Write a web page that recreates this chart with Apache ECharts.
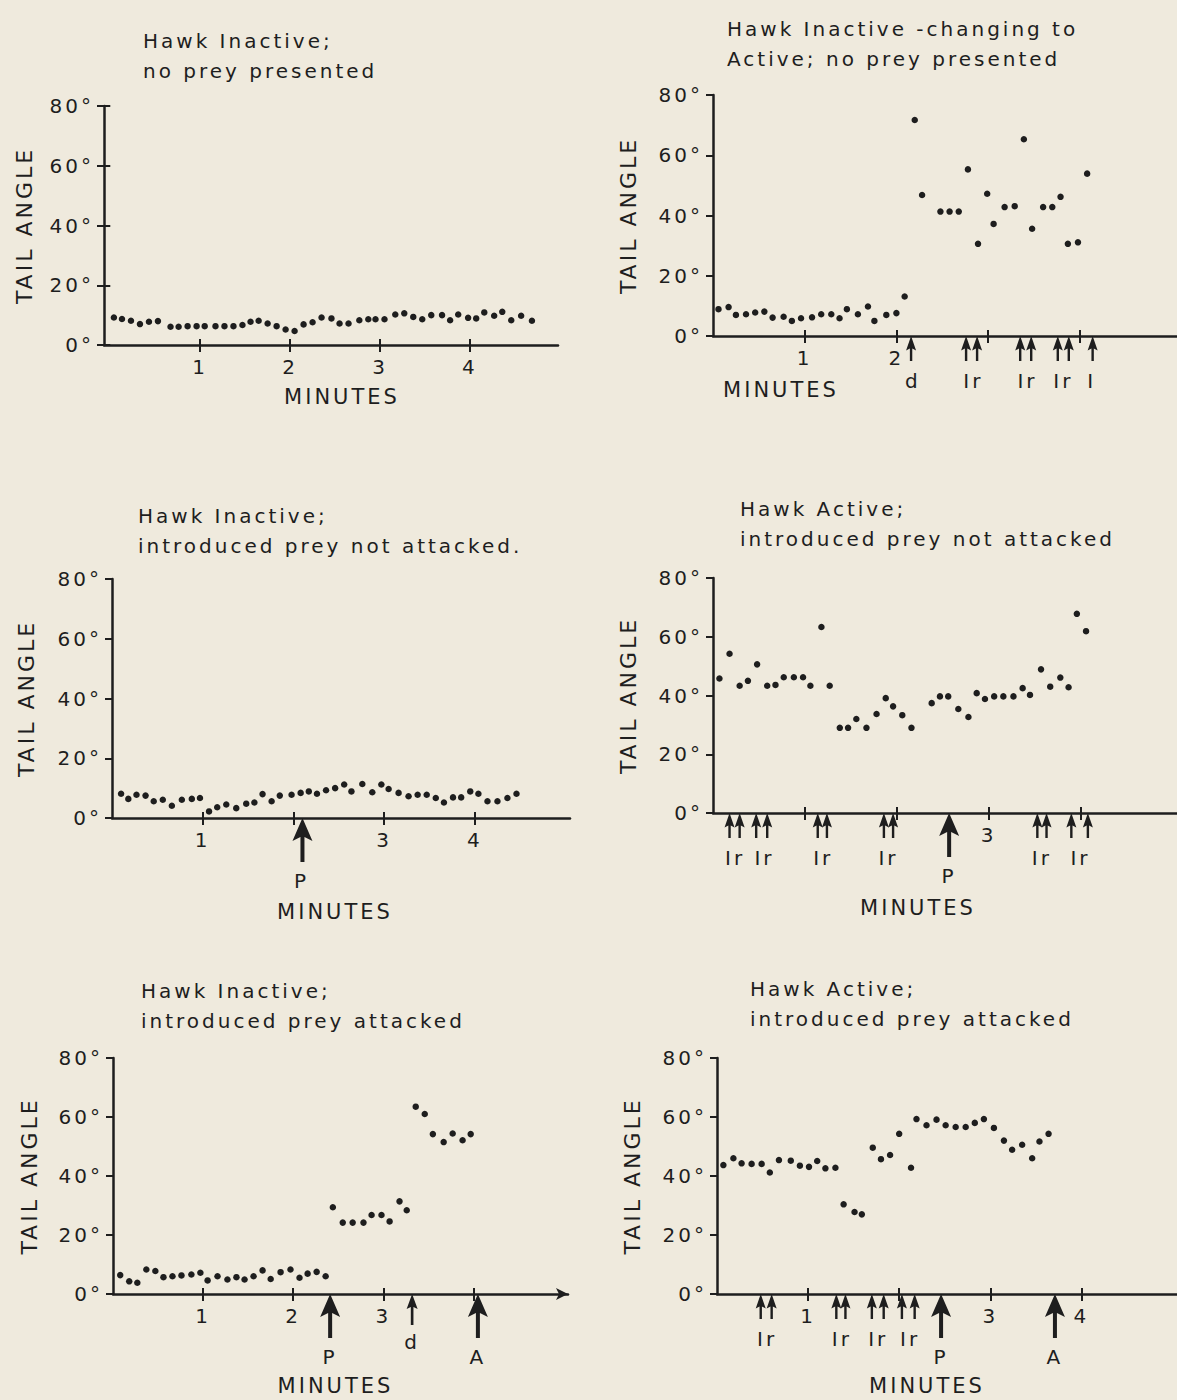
<!DOCTYPE html>
<html><head><meta charset="utf-8">
<script src="https://cdn.jsdelivr.net/npm/echarts@6/dist/echarts.min.js"></script>
<style>
html,body{margin:0;padding:0;background:#efeadd;}
#chart{width:1177px;height:1400px;}
#chart text{letter-spacing:3px;}
</style></head><body><div id="chart"></div>
<script>
// ---------------- DATA ----------------
// Panel 1: Hawk Inactive; no prey presented
const p1Minutes = [0.04,0.13,0.23,0.33,0.43,0.53,0.67,0.76,0.86,0.96,1.05,1.17,1.27,1.37,1.47,1.56,1.65,1.75,1.85,1.95,2.05,2.15,2.25,2.35,2.46,2.55,2.65,2.77,2.87,2.95,3.05,3.17,3.27,3.37,3.47,3.57,3.69,3.78,3.87,3.98,4.07,4.16,4.27,4.36,4.46,4.57,4.69];
const p1Angle   = [9.2,8.7,8.1,7.0,7.8,8.0,6.1,6.1,6.3,6.3,6.3,6.3,6.3,6.3,6.7,7.8,8.1,7.2,6.3,5.2,4.7,6.9,7.6,9.2,8.9,7.2,7.2,8.3,8.6,8.6,8.6,10.2,10.6,9.4,8.6,10.0,10.0,8.3,10.2,9.1,8.9,10.9,9.8,11.1,8.3,9.8,8.1];
const p1ArrowX = [], p1ArrowKind = [], p1NoteX = [], p1NoteText = [];

// Panel 2: Hawk Inactive - changing to Active; no prey presented
const p2Minutes = [0.06,0.17,0.25,0.36,0.46,0.56,0.65,0.77,0.86,0.96,1.08,1.18,1.29,1.38,1.46,1.58,1.69,1.76,1.89,2.0,2.09,2.2,2.28,2.48,2.58,2.68,2.78,2.89,2.99,3.06,3.18,3.29,3.39,3.48,3.6,3.7,3.79,3.87,3.98,4.08];
const p2Angle   = [8.9,9.6,7.0,7.2,7.8,8.1,6.1,6.4,5.0,5.9,6.2,7.2,7.2,5.9,8.9,7.2,9.8,5.0,7.0,7.6,13.1,71.7,46.8,41.3,41.3,41.3,55.3,30.6,47.2,37.2,42.8,43.1,65.3,35.6,42.8,42.8,46.2,30.6,31.1,53.9];
const p2ArrowX    = [2.16,2.76,2.88,3.35,3.47,3.76,3.88,4.14];
const p2ArrowKind = ['s','s','s','s','s','s','s','s'];
const p2NoteX     = [2.18,2.84,3.43,3.82,4.13];
const p2NoteText  = ['d','Ir','Ir','Ir','I'];

// Panel 3: Hawk Inactive; introduced prey not attacked.
const p3Minutes = [0.10,0.18,0.27,0.37,0.46,0.56,0.66,0.77,0.88,0.97,1.07,1.16,1.26,1.37,1.48,1.57,1.66,1.76,1.85,1.98,2.08,2.17,2.26,2.36,2.46,2.56,2.64,2.76,2.87,2.97,3.05,3.16,3.27,3.37,3.47,3.57,3.66,3.76,3.85,3.95,4.04,4.14,4.25,4.36,4.46];
const p3Angle   = [8.1,6.4,7.8,7.5,5.6,6.1,4.1,6.1,6.4,6.7,2.2,3.6,4.5,3.3,4.8,5.2,8.0,5.6,7.5,7.8,8.4,8.9,8.1,9.3,10.0,11.2,8.9,11.4,8.6,11.2,9.7,8.4,7.3,7.8,7.8,6.7,5.2,6.9,6.9,8.9,8.1,5.6,5.6,6.7,8.1];
const p3ArrowX = [2.10], p3ArrowKind = ['b'];
const p3NoteX = [2.09], p3NoteText = ['P'];

// Panel 4: Hawk Active; introduced prey not attacked
const p4Minutes = [0.07,0.18,0.29,0.38,0.48,0.59,0.68,0.77,0.88,0.98,1.06,1.18,1.27,1.38,1.47,1.56,1.67,1.78,1.88,1.96,2.06,2.16,2.38,2.47,2.56,2.67,2.78,2.87,2.96,3.06,3.16,3.27,3.37,3.45,3.57,3.67,3.78,3.87,3.96,4.06];
const p4Angle   = [45.8,54.2,43.3,45.0,50.6,43.3,43.6,46.2,46.2,46.2,43.3,63.3,43.3,29.0,29.0,32.0,29.0,33.7,39.1,36.3,33.3,29.0,37.4,39.7,39.7,35.4,32.7,40.8,38.8,39.7,39.7,39.7,42.5,40.2,48.9,43.0,46.1,42.8,67.8,61.9];
const p4ArrowX    = [0.18,0.29,0.47,0.59,1.14,1.24,1.86,1.96,2.57,3.53,3.63,3.90,4.08];
const p4ArrowKind = ['s','s','s','s','s','s','s','s','b','s','s','s','s'];
const p4NoteX     = [0.24,0.56,1.20,1.91,2.57,3.58,4.0];
const p4NoteText  = ['Ir','Ir','Ir','Ir','P','Ir','Ir'];

// Panel 5: Hawk Inactive; introduced prey attacked
const p5Minutes = [0.08,0.18,0.27,0.37,0.47,0.56,0.66,0.76,0.87,0.97,1.05,1.16,1.27,1.37,1.46,1.56,1.66,1.75,1.86,1.97,2.07,2.16,2.26,2.36,2.44,2.55,2.66,2.78,2.87,2.98,3.07,3.18,3.26,3.36,3.46,3.55,3.67,3.77,3.88,3.97];
const p5Angle   = [6.4,4.3,3.8,8.3,7.8,5.7,6.0,6.3,6.6,7.2,4.6,6.0,4.9,5.7,4.9,6.0,8.0,5.1,7.4,8.3,5.5,6.9,7.5,6.0,29.4,24.2,24.2,24.2,26.8,26.8,24.6,31.4,28.4,63.5,61.0,54.2,51.5,54.4,52.1,54.2];
const p5ArrowX    = [2.41,3.32,4.05];
const p5ArrowKind = ['b','m','b'];
const p5NoteX     = [2.41,3.32,4.05];
const p5NoteText  = ['P','d','A'];

// Panel 6: Hawk Active; introduced prey attacked
const p6Minutes = [0.07,0.18,0.27,0.38,0.49,0.58,0.68,0.81,0.91,1.01,1.10,1.19,1.30,1.39,1.51,1.59,1.71,1.80,1.90,2.00,2.13,2.19,2.30,2.41,2.51,2.62,2.73,2.83,2.93,3.04,3.15,3.24,3.35,3.46,3.54,3.64];
const p6Angle   = [43.7,46.0,44.3,44.1,44.1,41.2,45.4,45.2,43.5,43.1,45.1,42.6,42.8,30.4,27.8,27.0,49.6,45.7,47.1,54.3,42.8,59.3,57.2,59.1,57.2,56.6,56.6,58.0,59.3,56.3,52.0,48.9,50.6,46.0,51.7,54.3];
const p6ArrowX    = [0.48,0.60,1.31,1.41,1.70,1.83,2.03,2.17,2.46,3.71];
const p6ArrowKind = ['s','s','s','s','s','s','s','s','b','b'];
const p6NoteX     = [0.55,1.37,1.77,2.12,2.46,3.71];
const p6NoteText  = ['Ir','Ir','Ir','Ir','P','A'];

// Titles and tick labels
const titles = [
  'Hawk Inactive;\nno prey presented',
  'Hawk Inactive -changing to\nActive; no prey presented',
  'Hawk Inactive;\nintroduced prey not attacked.',
  'Hawk Active;\nintroduced prey not attacked',
  'Hawk Inactive;\nintroduced prey attacked',
  'Hawk Active;\nintroduced prey attacked'
];
const xTickValues = [1,2,3,4];
const xLabelValues = [[1,2,3,4],[1,2],[1,3,4],[3],[1,2,3],[1,3,4]];
const yTickValues = [0,20,40,60,80];

// ---------------- LAYOUT / STYLE ----------------
const FONT = 'DejaVu Sans';
const INK = '#1e1e1e';
const BG = '#efeadd';
const ARROWS = {
  s: {path:'path://M5,0 L10,14 L6.2,12 L6.2,24 L3.8,24 L3.8,12 L0,14 Z', size:[10,25]},
  m: {path:'path://M5,0 L10,15 L6.2,13 L6.2,31 L3.8,31 L3.8,13 L0,15 Z', size:[11,31]},
  b: {path:'path://M10,0 L20,23 L12,19 L12,44 L8,44 L8,19 L0,23 Z', size:[20,44]}
};
const layout = [
  {grid:{left:104,top:106,width:454,height:239}, xmin:-0.07, xmax:4.98, title:[143,26], yGap:69, mGap:41, mDx:11, axisArrow:false},
  {grid:{left:713,top:95,width:464,height:241},  xmin:0, xmax:5.06, title:[727,14],  yGap:74, mGap:43, mDx:-164, axisArrow:false},
  {grid:{left:112,top:579,width:458,height:239}, xmin:0, xmax:5.05, title:[138,501], yGap:75, mGap:83, mDx:-6, axisArrow:false},
  {grid:{left:713,top:578,width:464,height:235}, xmin:0, xmax:5.05, title:[740,494], yGap:74, mGap:84, mDx:-27, axisArrow:false},
  {grid:{left:113,top:1058,width:455,height:236}, xmin:0, xmax:5.05, title:[141,976], yGap:73, mGap:81, mDx:-5, axisArrow:true},
  {grid:{left:717,top:1058,width:460,height:236}, xmin:0, xmax:5.05, title:[750,974], yGap:74, mGap:81, mDx:-20, axisArrow:false}
];
const panelData = [
  [p1Minutes,p1Angle,p1ArrowX,p1ArrowKind,p1NoteX,p1NoteText],
  [p2Minutes,p2Angle,p2ArrowX,p2ArrowKind,p2NoteX,p2NoteText],
  [p3Minutes,p3Angle,p3ArrowX,p3ArrowKind,p3NoteX,p3NoteText],
  [p4Minutes,p4Angle,p4ArrowX,p4ArrowKind,p4NoteX,p4NoteText],
  [p5Minutes,p5Angle,p5ArrowX,p5ArrowKind,p5NoteX,p5NoteText],
  [p6Minutes,p6Angle,p6ArrowX,p6ArrowKind,p6NoteX,p6NoteText]
];

const option = {
  backgroundColor: BG,
  animation: false,
  title: [], grid: [], xAxis: [], yAxis: [], series: []
};

layout.forEach((L, i) => {
  const [mins, ang, arrX, arrK, noteX, noteT] = panelData[i];
  option.title.push({
    text: titles[i], left: L.title[0], top: L.title[1], padding: 0,
    textStyle: {fontFamily: FONT, fontSize: 20, fontWeight: 'normal', color: INK, lineHeight: 30}
  });
  option.grid.push(Object.assign({containLabel:false, outerBoundsMode:'none'}, L.grid));
  const lineStyle = {color: INK, width: 2.5};
  const tickStyle = {color: INK, width: 2};
  option.xAxis.push({
    gridIndex: i, type: 'value', min: L.xmin, max: L.xmax, position: 'bottom',
    axisLine: {show: true, onZero: false, lineStyle, symbol: L.axisArrow ? ['none','arrow'] : ['none','none'], symbolSize: [9, 12]},
    axisTick: {show: true, inside: false, length: 7, lineStyle: tickStyle, customValues: xTickValues},
    axisLabel: {show: true, customValues: xLabelValues[i], margin: 12, color: INK, fontSize: 20, fontFamily: FONT},
    splitLine: {show: false},
    name: 'MINUTES', nameLocation: 'middle', nameGap: L.mGap,
    nameTextStyle: {fontFamily: FONT, fontSize: 21, color: INK,
      padding: [0, L.mDx < 0 ? -2 * L.mDx : 0, 0, L.mDx > 0 ? 2 * L.mDx : 0]}
  });
  option.xAxis.push({
    gridIndex: i, type: 'value', min: L.xmin, max: L.xmax, position: 'bottom',
    axisLine: {show: false}, axisLabel: {show: false}, splitLine: {show: false},
    axisTick: {show: true, inside: true, length: 6, lineStyle: tickStyle, customValues: xTickValues}
  });
  option.yAxis.push({
    gridIndex: i, type: 'value', min: 0, max: 80, interval: 20,
    axisLine: {show: true, onZero: false, lineStyle},
    axisTick: {show: true, inside: false, length: 7, lineStyle: tickStyle, customValues: yTickValues},
    axisLabel: {show: true, formatter: '{value}°', margin: 10, color: INK, fontSize: 20, fontFamily: FONT},
    splitLine: {show: false},
    name: 'TAIL ANGLE', nameLocation: 'middle', nameRotate: 90, nameGap: L.yGap,
    nameTextStyle: {fontFamily: FONT, fontSize: 22, color: INK}
  });
  option.yAxis.push({
    gridIndex: i, type: 'value', min: 0, max: 80, interval: 20,
    axisLine: {show: false}, axisLabel: {show: false}, splitLine: {show: false},
    axisTick: {show: true, inside: true, length: 6, lineStyle: tickStyle, customValues: yTickValues}
  });
  // dots
  option.series.push({
    type: 'scatter', xAxisIndex: 2 * i, yAxisIndex: 2 * i, silent: true,
    symbol: 'circle', symbolSize: 6.5, itemStyle: {color: INK, opacity: 1},
    data: mins.map((m, k) => [m, ang[k]])
  });
  // event arrows
  if (arrX.length) option.series.push({
    type: 'scatter', xAxisIndex: 2 * i, yAxisIndex: 2 * i, silent: true, clip: false, z: 5,
    itemStyle: {color: INK, opacity: 1},
    data: arrX.map((m, k) => {
      const a = ARROWS[arrK[k]];
      return {value: [m, 0], symbol: a.path, symbolSize: a.size, symbolOffset: [0, a.size[1] / 2], symbolKeepAspect: false};
    })
  });
  // event labels
  if (noteX.length) option.series.push({
    type: 'scatter', xAxisIndex: 2 * i, yAxisIndex: 2 * i, silent: true, clip: false, z: 6,
    symbol: 'circle', symbolSize: 1, itemStyle: {color: 'rgba(0,0,0,0)', opacity: 1},
    label: {show: true, position: 'inside', formatter: '{b}', color: INK, opacity: 1, fontSize: 20, fontFamily: FONT},
    data: noteX.map((m, k) => {
      const t = noteT[k];
      const big = (t === 'P' || t === 'A');
      const dy = big ? 63 : (t === 'd' && i === 4 ? 48 : 45);
      return {value: [m, 0], name: t, label: {offset: [0, dy]}};
    })
  });
});

const chart = echarts.init(document.getElementById('chart'), null, {renderer: 'svg', width: 1177, height: 1400});
chart.setOption(option);
</script>
</body></html>
